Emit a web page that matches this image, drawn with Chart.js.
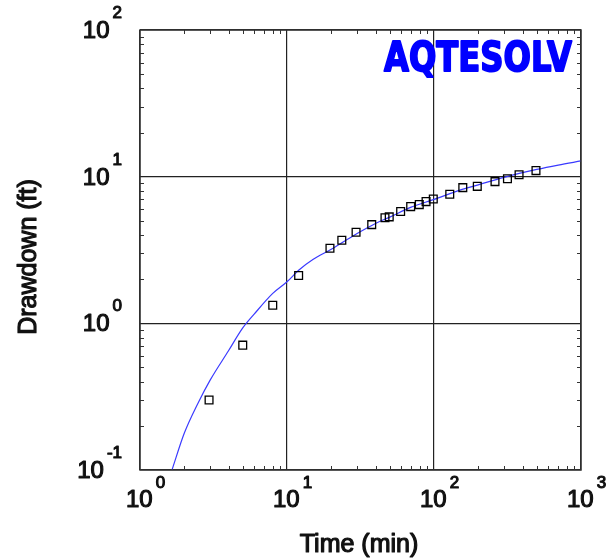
<!DOCTYPE html>
<html>
<head>
<meta charset="utf-8">
<script src="https://cdn.jsdelivr.net/npm/chart.js@4.4.1/dist/chart.umd.min.js"></script>
<style>
  html, body { margin: 0; padding: 0; background: #fff; }
  #wrap { width: 606px; height: 558px; }
</style>
</head>
<body>
<div id="wrap"><canvas id="myChart" width="606" height="558"></canvas></div>
<script>
// observed drawdown
let obsTime = [2.95, 5.0, 8.0, 12.0, 19.6, 23.6, 29.5, 37.7, 46.4, 49.6, 59.3, 69.4, 79.4, 88.3, 98.9, 128, 157, 197, 260, 316, 379, 494]
let obsDraw = [0.30, 0.71, 1.33, 2.12, 3.25, 3.69, 4.18, 4.71, 5.24, 5.32, 5.78, 6.25, 6.45, 6.76, 7.05, 7.58, 8.42, 8.59, 9.25, 9.69, 10.3, 11.0]

// fitted curve
let fitTime = [1.65, 2.0, 2.5, 3.0, 4.0, 5.0, 6.0, 8.0, 10, 12, 15, 20, 30, 40, 50, 70, 100, 150, 200, 300, 500, 700, 1000]
let fitDraw = [0.10, 0.178, 0.29, 0.41, 0.65, 0.93, 1.16, 1.6, 1.92, 2.3, 2.72, 3.2, 4.1, 4.8, 5.3, 6.2, 7.0, 8.1, 8.8, 9.9, 11.2, 12.0, 12.8]

let xTicks = [1, 10, 100, 1000]
let yTicks = [0.1, 1, 10, 100]

const ctx = document.getElementById('myChart');

function expOf(v) {
    return String(Math.round(Math.log10(v)));
}

// regular weight, thickened a little with a thin stroke
function heavyText(c, txt, x, y) {
    c.fillText(txt, x, y);
    c.strokeText(txt, x, y);
}

const frame = {
    id: 'frame_and_labels',
    afterDraw: (chart) => {
        const c = chart.ctx;
        const a = chart.chartArea;
        const xs = chart.scales.x;
        const ys = chart.scales.y;
        c.save();

        // minor ticks pointing inwards on all four sides
        c.strokeStyle = '#333';
        c.lineWidth = 1;
        c.beginPath();
        for (let d = 1; d < 1000; d *= 10) {
            for (let k = 2; k <= 9; k++) {
                let px = Math.round(xs.getPixelForValue(d * k)) + 0.5;
                c.moveTo(px, a.bottom); c.lineTo(px, a.bottom - 4);
                c.moveTo(px, a.top); c.lineTo(px, a.top + 4);
            }
        }
        for (let d = 0.1; d < 100; d *= 10) {
            for (let k = 2; k <= 9; k++) {
                let py = Math.round(ys.getPixelForValue(d * k)) + 0.5;
                c.moveTo(a.left, py); c.lineTo(a.left + 4, py);
                c.moveTo(a.right, py); c.lineTo(a.right - 4, py);
            }
        }
        c.stroke();

        // frame
        c.strokeStyle = '#333';
        c.lineWidth = 1.5;
        c.strokeRect(a.left, a.top, a.right - a.left, a.bottom - a.top);

        // tick labels 10^n
        c.fillStyle = '#111';
        c.strokeStyle = '#111';
        c.lineWidth = 1.1;
        c.lineJoin = 'round';
        c.textBaseline = 'alphabetic';
        xTicks.forEach(function(v) {
            let px = xs.getPixelForValue(v);
            c.font = '24px "Liberation Sans", Arial, sans-serif';
            c.textAlign = 'left';
            heavyText(c, '10', px - 14, 507);
            let w = c.measureText('10').width;
            c.font = '17px "Liberation Sans", Arial, sans-serif';
            heavyText(c, expOf(v), px - 14 + w + 3, 488);
        });
        yTicks.forEach(function(v) {
            let py = ys.getPixelForValue(v);
            c.font = '17px "Liberation Sans", Arial, sans-serif';
            c.textAlign = 'right';
            let e = expOf(v);
            heavyText(c, e, 122, py - 12);
            let we = c.measureText(e).width;
            c.font = '24px "Liberation Sans", Arial, sans-serif';
            heavyText(c, '10', 122 - we - 3, py + 8);
        });

        // axis titles
        c.font = '25px "Liberation Sans", Arial, sans-serif';
        c.lineWidth = 1.2;
        c.textAlign = 'center';
        c.textBaseline = 'middle';
        heavyText(c, 'Time (min)', 359, 545);
        c.save();
        c.translate(29, 257);
        c.rotate(-Math.PI / 2);
        heavyText(c, 'Drawdown (ft)', 0, 0);
        c.restore();

        // logo
        c.font = 'bold 41px "DejaVu Sans", sans-serif';
        c.fillStyle = '#0000ff';
        c.strokeStyle = '#0000ff';
        c.lineWidth = 2;
        c.textAlign = 'left';
        c.textBaseline = 'alphabetic';
        let lw = c.measureText('AQTESOLV').width;
        c.save();
        c.translate(384, 71);
        c.scale(188 / lw, 1);
        c.fillText('AQTESOLV', 0, 0);
        c.strokeText('AQTESOLV', 0, 0);
        c.restore();

        c.restore();
    }
};

const myChart = new Chart(ctx, {
    type: 'scatter',
    data: {
        datasets: [{
            label: 'Observed',
            data: obsTime.map((t, i) => ({x: t, y: obsDraw[i]})),
            pointStyle: 'rect',
            pointRadius: 5.5,
            pointHoverRadius: 5.5,
            backgroundColor: 'rgba(0,0,0,0)',
            borderColor: '#000',
            borderWidth: 1.3,
            showLine: false
        },
        {
            label: 'Fit',
            data: fitTime.map((t, i) => ({x: t, y: fitDraw[i]})),
            showLine: true,
            pointRadius: 0,
            borderColor: '#3a3aff',
            borderWidth: 1.2,
            cubicInterpolationMode: 'monotone',
            fill: false
        }]
    },
    options: {
        responsive: false,
        animation: false,
        events: [],
        layout: { padding: { top: 30, right: 25, left: 0, bottom: 0 } },
        plugins: {
            legend: { display: false },
            tooltip: { enabled: false }
        },
        scales: {
            x: {
                type: 'logarithmic',
                min: 1,
                max: 1000,
                afterFit: function(s) { s.height = 88; },
                ticks: { display: false },
                border: { display: false },
                grid: {
                    drawTicks: false,
                    lineWidth: 1.2,
                    color: function(c) {
                        if (!c.tick) return 'rgba(0,0,0,0)';
                        let l = Math.log10(c.tick.value);
                        return Math.abs(l - Math.round(l)) < 1e-6 ? '#222' : 'rgba(0,0,0,0)';
                    }
                }
            },
            y: {
                type: 'logarithmic',
                min: 0.1,
                max: 100,
                afterFit: function(s) { s.width = 140; },
                ticks: { display: false },
                border: { display: false },
                grid: {
                    drawTicks: false,
                    lineWidth: 1.2,
                    color: function(c) {
                        if (!c.tick) return 'rgba(0,0,0,0)';
                        let l = Math.log10(c.tick.value);
                        return Math.abs(l - Math.round(l)) < 1e-6 ? '#222' : 'rgba(0,0,0,0)';
                    }
                }
            }
        }
    },
    plugins: [frame]
});
</script>
</body>
</html>
